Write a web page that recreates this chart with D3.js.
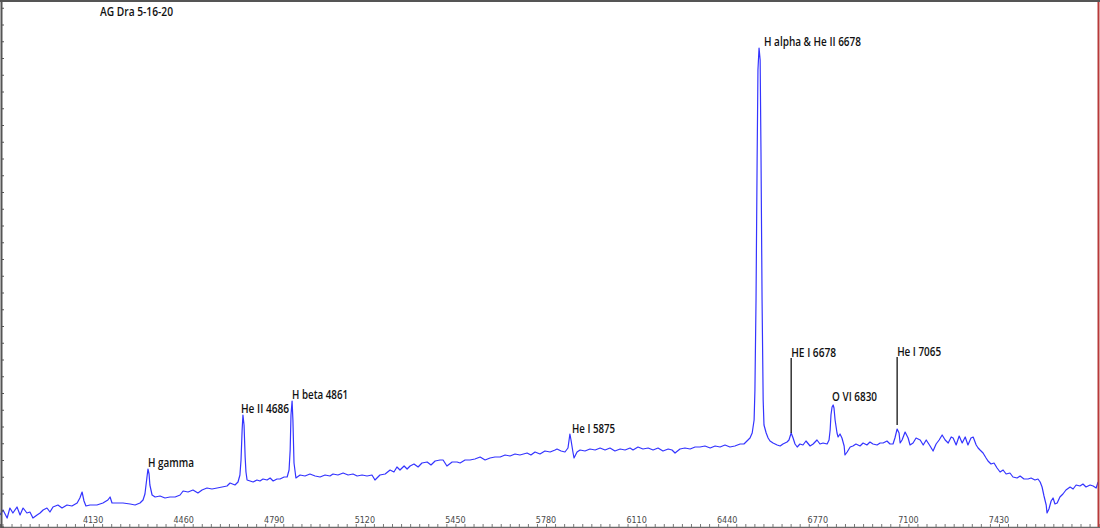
<!DOCTYPE html>
<html>
<head>
<meta charset="utf-8">
<script src="https://cdn.jsdelivr.net/npm/d3@7/dist/d3.min.js"></script>
<style>
html,body{margin:0;padding:0;background:#fff;}
svg{display:block;}
</style>
</head>
<body>
<svg id="chart" width="1100" height="528"></svg>
<script>
// ---- Data (wavelength in Angstrom, flux in arbitrary units) ----
const wavelength = [3791,3802,3817,3827,3838,3853,3864,3875,3889,3900,3911,3926,3937,3948,3962,3973,3984,4002,4017,4035,4053,4072,4082,4090,4097,4104,4119,4144,4166,4184,4192,4199,4217,4239,4265,4283,4301,4312,4319,4326,4330,4334,4337,4345,4356,4374,4392,4410,4429,4447,4458,4476,4494,4512,4527,4545,4563,4582,4600,4618,4629,4647,4658,4665,4669,4673,4676,4680,4684,4687,4691,4702,4713,4727,4738,4749,4764,4775,4786,4800,4811,4826,4837,4844,4848,4851,4855,4858,4862,4869,4884,4902,4920,4939,4957,4975,4993,5004,5022,5041,5059,5077,5092,5110,5128,5146,5157,5175,5194,5212,5226,5237,5248,5263,5274,5285,5299,5314,5328,5347,5361,5376,5394,5405,5419,5438,5456,5467,5485,5503,5521,5540,5558,5576,5594,5613,5631,5649,5667,5685,5711,5725,5740,5758,5776,5795,5813,5820,5835,5849,5860,5867,5871,5878,5882,5893,5904,5922,5940,5959,5977,5995,6013,6031,6050,6068,6086,6097,6115,6133,6152,6170,6188,6206,6225,6239,6250,6268,6286,6305,6323,6341,6359,6378,6396,6414,6432,6450,6468,6487,6501,6512,6523,6531,6538,6541,6545,6549,6552,6556,6560,6563,6567,6571,6574,6582,6589,6596,6607,6622,6633,6643,6658,6665,6673,6680,6687,6695,6705,6716,6727,6742,6753,6767,6778,6789,6804,6811,6815,6818,6822,6826,6829,6833,6840,6844,6851,6858,6866,6869,6877,6888,6898,6909,6924,6935,6949,6960,6971,6986,6997,7008,7022,7033,7044,7051,7059,7066,7070,7077,7088,7099,7106,7117,7128,7143,7154,7165,7179,7190,7201,7212,7223,7234,7245,7256,7263,7274,7285,7296,7307,7317,7328,7336,7347,7354,7361,7372,7383,7390,7401,7412,7423,7434,7445,7456,7470,7481,7496,7507,7521,7536,7547,7561,7572,7580,7587,7594,7602,7605,7612,7620,7627,7634,7642,7652,7663,7674,7689,7700,7711,7725,7736,7747,7762,7773,7784,7791];
const flux = [12,17,9,19,14,20,12,19,14,15,9,12,14,17,19,15,20,22,19,22,21,24,29,35,26,21,22,22,24,27,30,24,24,24,23,22,24,27,33,49,58,53,42,32,30,31,29,30,30,32,36,35,37,34,37,39,38,39,40,41,44,42,45,52,67,97,112,102,70,55,47,46,45,47,46,48,47,49,46,48,48,50,50,57,77,112,126,107,64,49,52,51,53,51,50,52,51,53,52,54,52,53,51,52,51,52,47,52,53,57,55,60,57,61,58,61,63,60,64,65,62,66,67,67,61,65,65,64,67,67,68,70,67,69,70,70,72,71,73,72,74,72,75,73,76,75,77,78,76,75,79,93,87,75,69,75,77,76,78,77,79,77,79,76,78,77,79,77,80,78,79,77,79,76,78,77,74,78,79,78,80,80,81,79,81,80,82,80,81,83,83,86,89,94,107,137,227,367,457,479,467,377,227,127,102,94,89,86,84,82,81,83,85,87,94,89,83,80,83,82,86,81,83,87,83,84,83,87,97,112,120,122,119,107,94,90,93,89,81,72,75,80,81,83,81,84,82,85,83,82,84,84,86,83,83,89,98,94,84,87,95,89,82,84,89,87,82,87,81,76,83,87,92,87,84,90,89,82,91,84,90,82,89,90,82,79,77,74,69,66,63,64,59,55,57,53,54,50,49,51,48,48,49,47,48,45,40,31,22,14,18,26,29,23,24,30,33,37,40,38,42,41,43,40,42,41,39,45];
const xTickLabels = [4130,4460,4790,5120,5450,5780,6110,6440,6770,7100,7430];
const title = "AG Dra 5-16-20";
const labelText = ["H gamma","He II 4686","H beta 4861","He I 5875","H alpha & He II 6678","HE I 6678","O VI 6830","He I 7065"];
const labelWave = [4330,4669,4855,5875,6574,6673,6822,7059];
const labelFlux = [60,114,128,94,481,170,126,171];
const labelWidth = [46,48,56,43,97,45,45,44];
const leaderWave = [null,null,null,null,null,6673,null,7059];
const leaderTop = [null,null,null,null,null,169,null,170];
const leaderBottom = [null,null,null,null,null,94,null,102];

// ---- Scales ----
const W = 1100, H = 528;
const svg = d3.select("#chart");
const x = d3.scaleLinear().domain([3791, 7798]).range([0, 1100]);
const y = d3.scaleLinear().domain([0, 527]).range([527, 0]);

// ---- Spectrum ----
const pts = wavelength.map((w, i) => [w, flux[i]]);
const line = d3.line().x(d => x(d[0])).y(d => y(d[1]));
svg.append("path")
  .datum(pts)
  .attr("d", line)
  .attr("fill", "none")
  .attr("stroke", "#3434ff")
  .attr("stroke-width", 1.2)
  .attr("stroke-linejoin", "round");

// ---- Bottom axis: minor ticks + labels ----
const minorTicks = d3.range(3800, 7798, 33);
const xAxis = d3.axisTop(x).tickValues(minorTicks).tickSize(3).tickFormat("");
const gx = svg.append("g").attr("transform", "translate(0,527)").call(xAxis);
gx.select(".domain").attr("stroke", "#6a6a6a").attr("stroke-width", 1.5);
gx.selectAll(".tick line").attr("stroke", "#777");
svg.append("g").selectAll("text").data(xTickLabels).join("text")
  .attr("x", d => x(d)).attr("y", 523)
  .attr("text-anchor", "middle")
  .attr("font-family", "DejaVu Sans, sans-serif")
  .attr("font-size", 8)
  .attr("fill", "#4a4a4a")
  .text(d => d);

// ---- Left axis ----
const yAxis = d3.axisRight(y).tickValues(d3.range(0, 527, 16.75)).tickSize(3).tickFormat("");
const gy = svg.append("g").attr("transform", "translate(1,0)").call(yAxis);
gy.select(".domain").attr("stroke", "#555").attr("stroke-width", 2);
gy.selectAll(".tick line").attr("stroke", "#555");

// ---- Frame ----
svg.append("line").attr("x1", 0).attr("x2", W).attr("y1", 1).attr("y2", 1)
  .attr("stroke", "#555").attr("stroke-width", 2);
svg.append("line").attr("x1", 1098.5).attr("x2", 1098.5).attr("y1", 2).attr("y2", 527)
  .attr("stroke", "#b83a3a").attr("stroke-width", 2);

// ---- Title ----
svg.append("text").attr("x", 100).attr("y", 16)
  .attr("font-family", "Open Sans, sans-serif").attr("font-weight", 600)
  .attr("font-size", 12.5).attr("fill", "#111")
  .attr("textLength", 73).attr("lengthAdjust", "spacingAndGlyphs")
  .text(title);

// ---- Annotations ----
const ann = svg.append("g");
labelText.forEach((t, i) => {
  ann.append("text")
    .attr("x", x(labelWave[i])).attr("y", y(labelFlux[i]))
    .attr("font-family", "Open Sans, sans-serif").attr("font-weight", 600)
    .attr("font-size", 12.5).attr("fill", "#111")
    .attr("textLength", labelWidth[i]).attr("lengthAdjust", "spacingAndGlyphs")
    .text(t);
  if (leaderWave[i] !== null) {
    ann.append("line")
      .attr("x1", x(leaderWave[i])).attr("x2", x(leaderWave[i]))
      .attr("y1", y(leaderTop[i])).attr("y2", y(leaderBottom[i]))
      .attr("stroke", "#000").attr("stroke-width", 1.2);
  }
});
</script>
</body>
</html>
